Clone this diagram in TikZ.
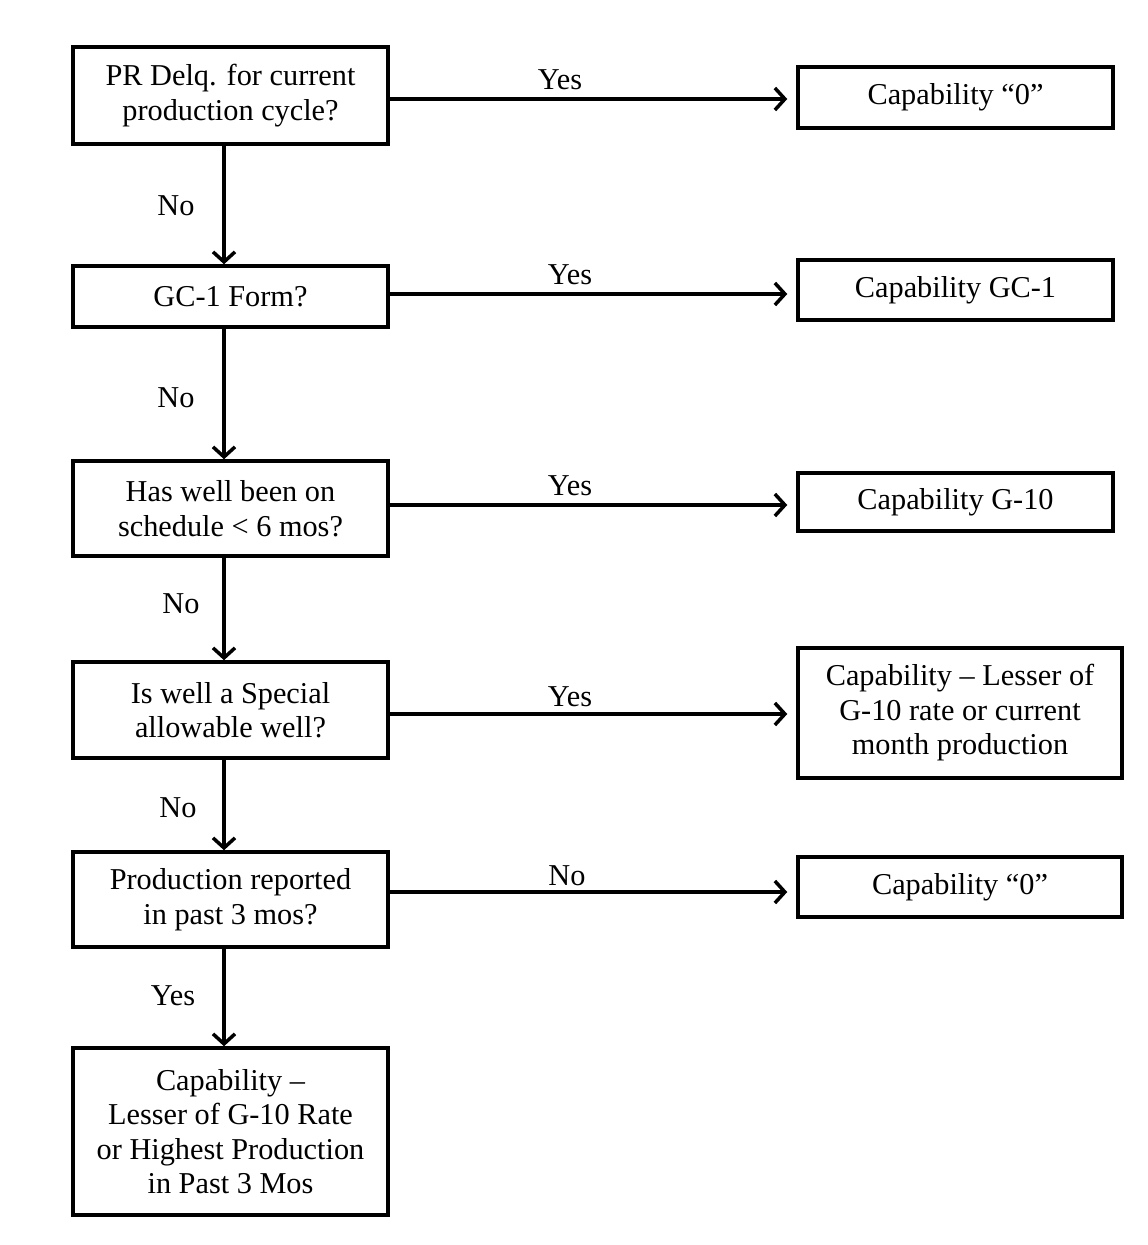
\documentclass[tikz,border=0pt]{standalone}
\usepackage{fontspec}
\setmainfont{Liberation Serif}
\usetikzlibrary{arrows.meta}
\begin{document}
\begin{tikzpicture}[x=1pt,y=-1pt,
  box/.style={draw, line width=3.5pt, align=center, inner sep=0pt,
    font=\fontsize{30.3}{34.5}\selectfont},
  lbl/.style={font=\fontsize{30.3}{34.5}\selectfont, inner sep=0pt},
  arr/.style={line width=3.5pt, -{Straight Barb[length=10pt,width=22pt,line width=3.5pt]}}
]
\useasboundingbox (0,0) rectangle (1148,1245);
% left column
\node[box, minimum width=315, minimum height=97] (b1) at (230.5,95.5) {PR Delq. for current\\production cycle?};
\node[box, minimum width=315, minimum height=61] (b2) at (230.5,296.5) {GC-1 Form?};
\node[box, minimum width=315, minimum height=95] (b3) at (230.5,508.5) {Has well been on\\schedule < 6 mos?};
\node[box, minimum width=315, minimum height=96] (b4) at (230.5,710) {Is well a Special\\allowable well?};
\node[box, minimum width=315, minimum height=95] (b5) at (230.5,899.5) {Production reported\\in past 3 mos?};
\node[box, minimum width=315, minimum height=167] (b6) at (230.5,1131.5) {Capability –\\Lesser of G-10 Rate\\or Highest Production\\in Past 3 Mos};
% right column
\node[box, minimum width=315, minimum height=61] (r1) at (955.5,97.5) {Capability “0”};
\node[box, minimum width=315, minimum height=60] (r2) at (955.5,290) {Capability GC-1};
\node[box, minimum width=315, minimum height=58] (r3) at (955.5,502) {Capability G-10};
\node[box, minimum width=324, minimum height=130] (r4) at (960,713) {Capability – Lesser of\\G-10 rate or current\\month production};
\node[box, minimum width=324, minimum height=60] (r5) at (960,887) {Capability “0”};
% horizontal arrow anchors
\coordinate (h1) at (388,99);
\coordinate (h2) at (388,294);
\coordinate (h3) at (388,505);
\coordinate (h4) at (388,714);
\coordinate (h5) at (388,892);
\draw[arr, shorten >=9pt] (h1) -- (h1 -| r1.west);
\draw[arr, shorten >=9pt] (h2) -- (h2 -| r2.west);
\draw[arr, shorten >=9pt] (h3) -- (h3 -| r3.west);
\draw[arr, shorten >=9pt] (h4) -- (h4 -| r4.west);
\draw[arr, shorten >=9pt] (h5) -- (h5 -| r5.west);
\node[lbl] (y1) at (560,80) {Yes};
\node[lbl] (y2) at (570,275) {Yes};
\node[lbl] (y3) at (570,486) {Yes};
\node[lbl] (y4) at (570,697) {Yes};
\node[lbl] (n5) at (567,876) {No};
% vertical arrows
\coordinate (v1) at (224,0);
\draw[arr] (v1 |- b1.south) -- (v1 |- b2.north);
\draw[arr] (v1 |- b2.south) -- (v1 |- b3.north);
\draw[arr] (v1 |- b3.south) -- (v1 |- b4.north);
\draw[arr] (v1 |- b4.south) -- (v1 |- b5.north);
\draw[arr] (v1 |- b5.south) -- (v1 |- b6.north);
\node[lbl] (n1) at (176,206) {No};
\node[lbl] (n2) at (176,398) {No};
\node[lbl] (n3) at (181,604) {No};
\node[lbl] (n4) at (178,808) {No};
\node[lbl] (y5) at (173,996) {Yes};
\end{tikzpicture}
\end{document}
